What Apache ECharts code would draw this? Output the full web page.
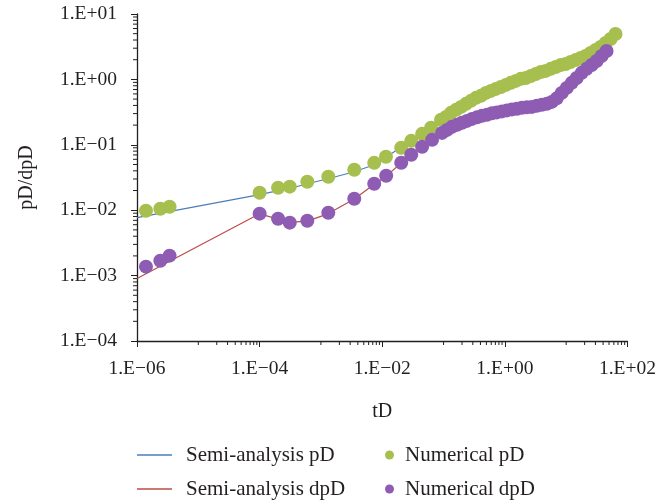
<!DOCTYPE html>
<html>
<head>
<meta charset="utf-8">
<title>pD / dpD vs tD</title>
<script src="https://cdn.jsdelivr.net/npm/echarts@6/dist/echarts.min.js"></script>
<style>
  html, body { margin: 0; padding: 0; background: #fff; }
  #chart { width: 659px; height: 500px; }
</style>
</head>
<body>
<div id="chart"></div>
<script>
// 读图得到的数据（log-log）
const semiPdTime = [1e-6, 1e-4, 2e-4, 3e-4, 6e-4, 1.3e-3, 3.5e-3, 7.4e-3, 0.0157, 0.03, 0.06, 0.1, 0.2, 0.5, 1, 2, 5, 10, 20, 40, 65];
const semiPdValue = [0.0077, 0.0173, 0.0199, 0.0213, 0.0254, 0.0303, 0.0387, 0.0495, 0.078, 0.112, 0.178, 0.25, 0.378, 0.62, 0.82, 1.04, 1.36, 1.72, 2.25, 3.4, 5.0];

const semiDpdTime = [1e-6, 1e-4, 2e-4, 3e-4, 6e-4, 1.3e-3, 3.5e-3, 7.4e-3, 0.0116, 0.02, 0.03, 0.045, 0.065, 0.1, 0.2, 0.5, 1, 2, 4, 6, 10, 20, 46];
const semiDpdValue = [0.0009, 0.0088, 0.0073, 0.0065, 0.0068, 0.0088, 0.0148, 0.025, 0.033, 0.052, 0.069, 0.092, 0.118, 0.158, 0.215, 0.287, 0.333, 0.37, 0.405, 0.46, 0.72, 1.38, 2.72];

const numPdTime = [1.4e-6, 2.4e-6, 3.4e-6, 1.0e-4, 2.0e-4, 3.1e-4, 6.0e-4, 1.32e-3, 3.5e-3, 7.4e-3, 1.15e-2,
  0.0204, 0.0297, 0.0447, 0.0627, 0.091, 0.110, 0.132, 0.160, 0.193, 0.232, 0.280, 0.338, 0.407, 0.491, 0.592,
  0.714, 0.861, 1.04, 1.25, 1.51, 1.82, 2.19, 2.65, 3.19, 3.85, 4.64, 5.60, 6.75, 8.14, 9.82, 11.8, 14.3, 17.2,
  20.7, 25.0, 30.2, 36.4, 43.9, 52.9, 63.8];
const numPdValue = [0.0098, 0.0105, 0.0113, 0.0185, 0.0221, 0.0229, 0.0272, 0.0324, 0.0415, 0.053, 0.0656,
  0.0900, 0.115, 0.147, 0.182, 0.241, 0.267, 0.308, 0.342, 0.380, 0.423, 0.470, 0.522, 0.560, 0.622, 0.667,
  0.716, 0.767, 0.824, 0.885, 0.948, 1.02, 1.05, 1.13, 1.21, 1.30, 1.35, 1.45, 1.55, 1.66, 1.72, 1.85, 1.98, 2.13,
  2.28, 2.54, 2.82, 3.13, 3.61, 4.15, 4.95];

const numDpdTime = [1.4e-6, 2.4e-6, 3.4e-6, 1.0e-4, 2.0e-4, 3.1e-4, 6.0e-4, 1.32e-3, 3.5e-3, 7.4e-3, 1.16e-2,
  0.0204, 0.0297, 0.0447, 0.065, 0.0946, 0.114, 0.137, 0.166, 0.200, 0.241, 0.291, 0.351, 0.423, 0.509, 0.615,
  0.741, 0.894, 1.08, 1.30, 1.57, 1.89, 2.28, 2.75, 3.31, 4.00, 4.82, 5.81, 7.01, 8.45, 10.2, 12.3, 14.8, 17.9,
  21.5, 26.0, 31.3, 37.8, 45.6];
const numDpdValue = [0.00137, 0.00169, 0.00202, 0.00885, 0.0074, 0.00645, 0.0069, 0.00916, 0.015, 0.0254, 0.0337,
  0.0531, 0.0703, 0.0931, 0.119, 0.152, 0.169, 0.188, 0.202, 0.217, 0.232, 0.249, 0.263, 0.277, 0.287, 0.303,
  0.313, 0.324, 0.336, 0.348, 0.355, 0.367, 0.374, 0.380, 0.394, 0.408, 0.423, 0.453, 0.513, 0.622, 0.741, 0.885,
  1.05, 1.26, 1.45, 1.66, 1.91, 2.28, 2.72];

// 刻度标签
const xTickExps = [-6, -4, -2, 0, 2];
const xTickLabels = ['1.E\u221206', '1.E\u221204', '1.E\u221202', '1.E+00', '1.E+02'];
const yTickExps = [-4, -3, -2, -1, 0, 1];
const yTickLabels = ['1.E\u221204', '1.E\u221203', '1.E\u221202', '1.E\u221201', '1.E+00', '1.E+01'];

const xMin = 1e-6, xMax = 1e2, yMin = 1e-4, yMax = 1e1;

(function() {
    const FONT = '"Liberation Serif", "DejaVu Serif", serif';
    const TEXT = '#231f20';

    const zip = (a, b) => a.map((v, i) => [v, b[i]]);

    // 次刻度：x 轴在每两个十进位之间的 1..9 ×10^k，y 轴 2..9 ×10^k
    const xMinor = [];
    for (let e = -5; e <= 1; e += 2) {
        for (let k = 1; k <= 9; k++) xMinor.push([k * Math.pow(10, e), yMin]);
    }
    const yMinor = [];
    for (let e = -4; e <= 0; e++) {
        for (let k = 2; k <= 9; k++) yMinor.push([xMin, k * Math.pow(10, e)]);
    }

    function labelFrom(exps, labels) {
        return (v) => {
            const e = Math.round(Math.log10(v));
            const i = exps.indexOf(e);
            return i >= 0 ? labels[i] : '';
        };
    }

    function tickSeries(data, vertical) {
        return {
            type: 'custom',
            silent: true,
            data: data,
            z: 1,
            renderItem: (params, api) => {
                const p = api.coord([api.value(0), api.value(1)]);
                const shape = vertical
                    ? { x1: p[0], y1: p[1], x2: p[0], y2: p[1] + 4 }
                    : { x1: p[0] - 4, y1: p[1], x2: p[0], y2: p[1] };
                return { type: 'line', shape: shape, style: { stroke: TEXT, lineWidth: 1 } };
            }
        };
    }

    // 每个图例项单独摆放，和原图两列对齐
    function legendItem(name, left, top, isLine) {
        return {
            left: left,
            top: top,
            padding: 0,
            itemWidth: isLine ? 35 : 9,
            itemHeight: isLine ? 1.5 : 9,
            icon: isLine ? 'rect' : 'circle',
            textStyle: { fontFamily: FONT, fontSize: 21, color: TEXT, lineHeight: 22, padding: [0, 0, 0, isLine ? 9 : 6] },
            data: [name]
        };
    }

    const chart = echarts.init(document.getElementById('chart'), null, { renderer: 'canvas' });

    const axisText = { fontFamily: FONT, fontSize: 19.5, color: TEXT };

    const option = {
        animation: false,
        backgroundColor: '#fff',
        grid: { left: 137, right: 30, top: 14, bottom: 159, containLabel: false },
        xAxis: {
            type: 'log',
            logBase: 10,
            min: xMin,
            max: xMax,
            interval: 2,
            name: 'tD',
            nameLocation: 'middle',
            nameGap: 61,
            nameTextStyle: { fontFamily: FONT, fontSize: 20, color: TEXT },
            axisLine: { show: true, lineStyle: { color: TEXT, width: 1.3 } },
            axisTick: { show: true, length: 6, lineStyle: { color: TEXT, width: 1 } },
            axisLabel: Object.assign({ margin: 18, formatter: labelFrom(xTickExps, xTickLabels) }, axisText),
            splitLine: { show: false },
            minorTick: { show: false }
        },
        yAxis: {
            type: 'log',
            logBase: 10,
            min: yMin,
            max: yMax,
            interval: 1,
            name: 'pD/dpD',
            nameLocation: 'middle',
            nameGap: 100,
            nameTextStyle: { fontFamily: FONT, fontSize: 20, color: TEXT },
            axisLine: { show: true, lineStyle: { color: TEXT, width: 1.3 } },
            axisTick: { show: true, length: 6, lineStyle: { color: TEXT, width: 1 } },
            axisLabel: Object.assign({ margin: 20, formatter: labelFrom(yTickExps, yTickLabels) }, axisText),
            splitLine: { show: false },
            minorTick: { show: false }
        },
        legend: [
            legendItem('Semi-analysis pD', 137, 444, true),
            legendItem('Semi-analysis dpD', 137, 478, true),
            legendItem('Numerical pD', 385, 444, false),
            legendItem('Numerical dpD', 385, 478, false)
        ],
        series: [
            tickSeries(xMinor, true),
            tickSeries(yMinor, false),
            {
                name: 'Semi-analysis pD',
                type: 'line',
                data: zip(semiPdTime, semiPdValue),
                showSymbol: false,
                symbol: 'none',
                lineStyle: { color: '#4a7ebb', width: 1.2 },
                itemStyle: { color: '#4a7ebb' },
                z: 2
            },
            {
                name: 'Semi-analysis dpD',
                type: 'line',
                data: zip(semiDpdTime, semiDpdValue),
                showSymbol: false,
                symbol: 'none',
                lineStyle: { color: '#be4b48', width: 1.2 },
                itemStyle: { color: '#be4b48' },
                z: 2
            },
            {
                name: 'Numerical pD',
                type: 'scatter',
                data: zip(numPdTime, numPdValue),
                symbol: 'circle',
                symbolSize: 14,
                itemStyle: { color: '#a6bf4e', opacity: 1 },
                z: 3
            },
            {
                name: 'Numerical dpD',
                type: 'scatter',
                data: zip(numDpdTime, numDpdValue),
                symbol: 'circle',
                symbolSize: 14,
                itemStyle: { color: '#8e5cb3', opacity: 1 },
                z: 4
            }
        ]
    };

    chart.setOption(option);
})();
</script>
</body>
</html>
